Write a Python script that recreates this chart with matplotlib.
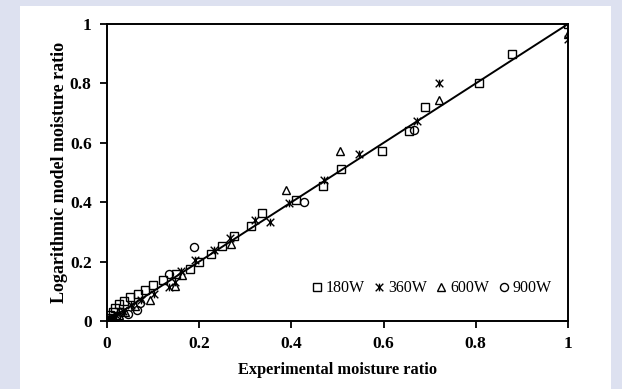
import numpy as np
import matplotlib.pyplot as plt
from matplotlib.path import Path
from matplotlib.patches import Rectangle

# (experimental, predicted)
x180 = [1.0, 0.878, 0.807, 0.690, 0.656, 0.596, 0.508, 0.468, 0.410, 0.336, 0.313, 0.275,
        0.250, 0.225, 0.199, 0.181, 0.149, 0.121, 0.099, 0.083, 0.067, 0.049, 0.036, 0.026,
        0.018, 0.012, 0.007, 0.003, 0.001]
y180 = [1.0, 0.898, 0.800, 0.719, 0.641, 0.574, 0.511, 0.455, 0.406, 0.365, 0.320, 0.286,
        0.253, 0.224, 0.199, 0.175, 0.157, 0.139, 0.121, 0.105, 0.092, 0.081, 0.067, 0.056,
        0.045, 0.030, 0.020, 0.010, 0.005]

x360 = [1.0, 0.721, 0.672, 0.547, 0.471, 0.395, 0.354, 0.322, 0.266, 0.233, 0.190, 0.160,
        0.147, 0.134, 0.102, 0.073, 0.052, 0.035, 0.020, 0.010, 0.005, 0.002]
y360 = [0.948, 0.800, 0.673, 0.563, 0.474, 0.398, 0.333, 0.339, 0.279, 0.238, 0.204, 0.168,
        0.131, 0.114, 0.092, 0.070, 0.053, 0.035, 0.020, 0.010, 0.005, 0.002]

x600 = [1.0, 0.720, 0.505, 0.389, 0.270, 0.162, 0.147, 0.093, 0.060, 0.040, 0.025, 0.012, 0.004]
y600 = [0.967, 0.745, 0.572, 0.440, 0.260, 0.154, 0.117, 0.072, 0.050, 0.030, 0.020, 0.010, 0.003]

x900 = [0.665, 0.427, 0.188, 0.134, 0.071, 0.065, 0.045, 0.030, 0.020, 0.010, 0.004]
y900 = [0.642, 0.401, 0.249, 0.159, 0.061, 0.036, 0.022, 0.030, 0.015, 0.008, 0.003]

labels = ['180W', '360W', '600W', '900W']
ticks = [0, 0.2, 0.4, 0.6, 0.8, 1]
tick_labels = ['0', '0.2', '0.4', '0.6', '0.8', '1']

# excel style star: x with a vertical bar
star = Path([(-1, -1), (1, 1), (-1, 1), (1, -1), (0, -1), (0, 1)],
            [Path.MOVETO, Path.LINETO, Path.MOVETO, Path.LINETO, Path.MOVETO, Path.LINETO])

plt.rcParams['font.family'] = ['Liberation Serif', 'DejaVu Serif']

fig = plt.figure(figsize=(6.22, 3.89), dpi=100)
fig.patch.set_facecolor('#dde1f0')
fig.patches.append(Rectangle((20 / 622, 0), (611 - 20) / 622, 1 - 6 / 389,
                             transform=fig.transFigure, facecolor='white',
                             edgecolor='none', zorder=-10))

ax = fig.add_axes([107 / 622, 1 - 321 / 389, (568 - 107) / 622, (321 - 24) / 389])
ax.set_facecolor('white')

ax.plot([0, 1], [0, 1], color='black', lw=1.4, zorder=2)

kw = dict(linestyle='none', markerfacecolor='none', markeredgecolor='black',
          color='black', mew=1.0, zorder=3)
ax.plot(x180, y180, marker='s', ms=5.8, label=labels[0], **kw)
ax.plot(x360, y360, marker=star, ms=5.5, label=labels[1], **kw)
ax.plot(x600, y600, marker='^', ms=6, label=labels[2], **kw)
ax.plot(x900, y900, marker='o', ms=5.8, label=labels[3], **kw)

ax.set_xlim(0, 1)
ax.set_ylim(0, 1)
ax.set_xticks(ticks)
ax.set_yticks(ticks)
ax.set_xticklabels(tick_labels, fontsize=12.5, fontweight='bold')
ax.set_yticklabels(tick_labels, fontsize=12.5, fontweight='bold')
ax.tick_params(direction='out', length=5, width=1.3, pad=6)
for s in ax.spines.values():
    s.set_linewidth(1.4)

ax.set_xlabel('Experimental moisture ratio', fontsize=11.8, fontweight='bold', labelpad=7)
ax.set_ylabel('Logarithmic model moisture ratio', fontsize=13, fontweight='bold', labelpad=1)

ax.legend(loc='center right', bbox_to_anchor=(0.985, 0.11), ncol=4, frameon=False,
          fontsize=11.5, handlelength=0.7, handletextpad=0.2, columnspacing=0.55,
          borderaxespad=0.2)

fig.savefig('out.png', dpi=100, facecolor=fig.get_facecolor())
